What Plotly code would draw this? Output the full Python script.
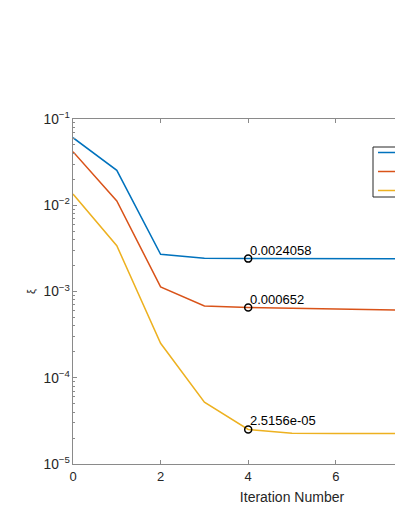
import math
import plotly.graph_objects as go

iterations = [0, 1, 2, 3, 4, 5, 6, 7, 8, 9, 10]
# legend text lies outside the visible crop of the reference: left blank
series_names = ["", "", ""]
xi_blue = [0.0607, 0.0254, 0.0027, 0.00243, 0.0024058, 0.00240, 0.00240, 0.00240, 0.00240, 0.00240, 0.00240]
xi_red = [0.0418, 0.0112, 0.00113, 0.00068, 0.000652, 0.000638, 0.000625, 0.000612, 0.000600, 0.000590, 0.000580]
xi_yellow = [0.0135, 0.0034, 0.000251, 5.2e-05, 2.5156e-05, 2.27e-05, 2.26e-05, 2.26e-05, 2.25e-05, 2.25e-05, 2.25e-05]
tip_iteration = 4
tip_labels = ["0.0024058", "0.000652", "2.5156e-05"]
x_title = "Iteration Number"
y_title = "ξ"

colors = ["#0072BD", "#D95319", "#EDB120"]
all_series = [xi_blue, xi_red, xi_yellow]

fig = go.Figure()
for name, ys, c in zip(series_names, all_series, colors):
    fig.add_trace(go.Scatter(x=iterations, y=ys, mode="lines", name=name,
                             line=dict(color=c, width=1.5)))

tip_vals = [ys[iterations.index(tip_iteration)] for ys in all_series]
fig.add_trace(go.Scatter(x=[tip_iteration] * 3, y=tip_vals, mode="markers", showlegend=False,
                         marker=dict(symbol="circle-open", size=7, color="black",
                                     line=dict(width=1.5, color="black"))))
for v, lab in zip(tip_vals, tip_labels):
    fig.add_annotation(x=tip_iteration, y=math.log10(v), yref="y", xref="x", text=lab, showarrow=False,
                       xanchor="left", yanchor="bottom", yshift=-1, xshift=0,
                       font=dict(family="Liberation Sans, Arial", size=13, color="black"))

# legend frame (the original legend box runs past the right edge of the window)
plot_l, plot_w, plot_b, plot_h = 73, 438, 464, 345
fig.add_shape(type="rect", xref="paper", yref="paper", layer="below",
              x0=(373 - plot_l) / plot_w, x1=(505 - plot_l) / plot_w,
              y0=(plot_b - 197) / plot_h, y1=(plot_b - 147) / plot_h,
              line=dict(color="#262626", width=1), fillcolor="white")

axis_col = "#8a8a8a"
# The original figure is wider than the 395 px window; only its left part is visible.
fig.update_layout(
    width=560, height=511,
    margin=dict(l=plot_l, r=560 - plot_l - plot_w, t=119, b=511 - plot_b, autoexpand=False),
    paper_bgcolor="white", plot_bgcolor="white",
    font=dict(family="Liberation Sans, Arial", size=13, color="#262626"),
    legend=dict(x=(373 - plot_l) / plot_w, y=(plot_b - 138) / plot_h, xanchor="left", yanchor="top",
                bgcolor="rgba(0,0,0,0)", borderwidth=0,
                itemwidth=80, font=dict(size=10)),
    xaxis=dict(range=[0, 10], dtick=2, tick0=0, showgrid=False, zeroline=False,
               showline=True, linecolor=axis_col, linewidth=1, mirror="ticks",
               ticks="inside", ticklen=4, tickcolor=axis_col, tickfont=dict(size=13),
               title=dict(text=x_title, font=dict(size=14), standoff=9)),
    yaxis=dict(type="log", range=[-5, -1], dtick=1, exponentformat="power", showgrid=False,
               zeroline=False, showline=True, linecolor=axis_col, linewidth=1, mirror="ticks",
               ticks="inside", ticklen=4, tickcolor=axis_col, tickfont=dict(size=11),
               minor=dict(ticks="inside", ticklen=2, dtick="D1", tickcolor=axis_col, showgrid=False),
               title=dict(text=y_title, font=dict(size=11), standoff=5)),
)

fig.write_html("out.html", config={"displayModeBar": False},
               post_script="document.body.style.margin='0';document.body.style.overflow='hidden';")
